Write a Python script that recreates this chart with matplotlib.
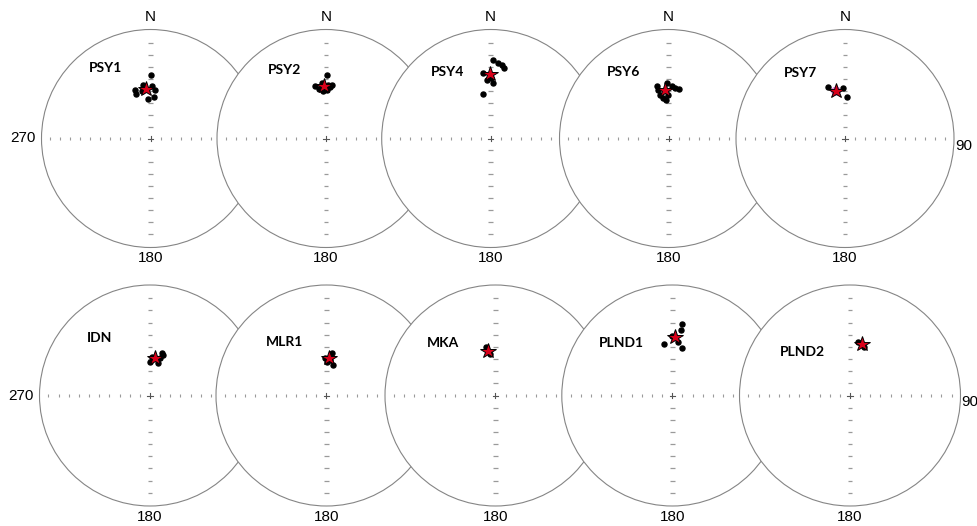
import numpy as np
import matplotlib.pyplot as plt
from matplotlib.patches import Circle

plt.rcParams['font.family'] = ['Liberation Sans', 'DejaVu Sans']

W, H = 978, 526

sites = ["PSY1", "PSY2", "PSY4", "PSY6", "PSY7", "IDN", "MLR1", "MKA", "PLND1", "PLND2"]

# site mean directions
mean_dec = [354.8, 358.1, 359.4, 355.9, 349.3, 7.7, 4.3, 350.1, 3.1, 13.5]
mean_inc = [52.3, 50.1, 40.5, 53.2, 53.5, 62.3, 62.4, 56.1, 45.8, 50.6]
a95 = [None, None, None, None, 3.0, None, None, None, None, None]

# specimen directions (declination, inclination)
psy1_dec = [0.0, 342.3, 342.7, 349.2, 1.1, 5.3, 4.1, 357.1, 352.5]
psy1_inc = [41.3, 51.4, 54.4, 53.8, 50.1, 53.1, 58.4, 59.9, 49.0]
psy2_dec = [1.2, 348.7, 351.9, 2.5, 5.0, 0.8, 355.5, 356.8, 5.9]
psy2_inc = [41.3, 49.3, 52.3, 49.3, 51.0, 53.3, 47.9, 53.8, 49.1]
psy4_dec = [1.9, 5.7, 8.5, 11.0, 349.8, 2.7, 356.1, 353.5, 0.5]
psy4_inc = [28.8, 30.8, 32.4, 34.8, 55.9, 47.5, 45.3, 39.6, 43.4]
psy6_dec = [347.4, 348.1, 358.1, 3.5, 7.4, 12.3, 348.9, 352.6, 356.3, 359.7]
psy6_inc = [48.9, 52.4, 48.0, 49.8, 51.6, 51.5, 56.6, 59.6, 60.8, 57.3]
psy7_dec = [341.9, 2.4, 357.4]
psy7_inc = [49.0, 58.4, 51.9]
idn_dec = [15.3, 18.2, 0.0, 2.5, 14.5, 15.0]
idn_inc = [57.0, 58.4, 65.0, 61.2, 65.4, 61.4]
mlr1_dec = [7.0, 0.3, 12.6, 357.7, 6.3]
mlr1_inc = [58.4, 65.0, 66.9, 62.5, 63.3]
mka_dec = [348.8, 352.5]
mka_inc = [53.4, 58.9]
plnd1_dec = [7.5, 7.3, 351.4, 12.0, 359.4, 6.3]
plnd1_inc = [34.8, 40.0, 50.8, 54.1, 45.2, 49.4]
plnd2_dec = [8.8, 16.2]
plnd2_inc = [49.3, 52.5]

site_dec = [psy1_dec, psy2_dec, psy4_dec, psy6_dec, psy7_dec,
            idn_dec, mlr1_dec, mka_dec, plnd1_dec, plnd2_dec]
site_inc = [psy1_inc, psy2_inc, psy4_inc, psy6_inc, psy7_inc,
            idn_inc, mlr1_inc, mka_inc, plnd1_inc, plnd2_inc]

# net centres and radii in pixels
centres = [(150.5, 138.5), (326, 138.5), (490.7, 138.5), (668.5, 138.5), (845, 138.5),
           (150, 395.5), (326.5, 395.5), (495.5, 395.5), (672.3, 395.5), (850, 395.5)]
radii = [109] * 5 + [110.5] * 5
name_pos = [(-0.417, 0.647), (-0.376, 0.628), (-0.396, 0.610), (-0.413, 0.610), (-0.408, 0.601),
            (-0.457, 0.520), (-0.376, 0.484), (-0.471, 0.475), (-0.464, 0.475), (-0.430, 0.394)]


def project(dec, inc):
    # lower hemisphere equal-area (Schmidt) projection, unit radius
    d = np.radians(np.asarray(dec, dtype=float))
    i = np.radians(np.asarray(inc, dtype=float))
    r = np.sqrt(2) * np.sin((np.pi / 2 - i) / 2)
    return r * np.sin(d), r * np.cos(d)


def cone(dec, inc, alpha):
    # small circle of radius alpha around a direction
    d, i, a = np.radians(dec), np.radians(inc), np.radians(alpha)
    t = np.linspace(0, 2 * np.pi, 80)
    v = np.array([np.cos(i) * np.cos(d), np.cos(i) * np.sin(d), np.sin(i)])
    u = np.array([-np.sin(d), np.cos(d), 0.0])
    w = np.cross(v, u)
    pts = np.cos(a) * v[:, None] + np.sin(a) * (np.outer(u, np.cos(t)) + np.outer(w, np.sin(t)))
    inc_c = np.degrees(np.arcsin(pts[2]))
    dec_c = np.degrees(np.arctan2(pts[1], pts[0]))
    return project(dec_c, inc_c)


fig = plt.figure(figsize=(W / 100, H / 100), dpi=100)

for k, name in enumerate(sites):
    cx, cy = centres[k]
    R = radii[k]
    ax = fig.add_axes([(cx - R) / W, 1 - (cy + R) / H, 2 * R / W, 2 * R / H])
    ax.set_xlim(-1, 1)
    ax.set_ylim(-1, 1)
    ax.axis('off')

    ax.add_patch(Circle((0, 0), 1, facecolor='white', edgecolor='#858585',
                        lw=0.8, zorder=1, clip_on=False))

    # tick marks along the E-W and N-S diameters
    ex = 0.092 * np.arange(1, 11)
    ax.vlines(np.concatenate([ex, -ex]), -0.017, 0.017, color='#9a9a9a', lw=0.8, zorder=2)
    ny = 0.11 * np.arange(1, 9)
    ax.hlines(np.concatenate([ny, -ny]), -0.022, 0.022, color='#9a9a9a', lw=0.9, zorder=2)
    ax.plot([-0.025, 0.025], [0, 0], color='#555555', lw=0.8, zorder=2)
    ax.plot([0, 0], [-0.025, 0.025], color='#555555', lw=0.8, zorder=2)

    x, y = project(site_dec[k], site_inc[k])
    ax.plot(x, y, 'o', color='black', ms=3.6, zorder=3, clip_on=False)
    if a95[k]:
        cxs, cys = cone(mean_dec[k], mean_inc[k], a95[k])
        ax.plot(cxs, cys, color='#e070e0', lw=0.9, zorder=4)
    mx, my = project(mean_dec[k], mean_inc[k])
    ax.plot(mx, my, marker='*', ms=11.5, mfc='#d8001a', mec='black', mew=0.7,
            zorder=5, clip_on=False)

    ax.text(name_pos[k][0], name_pos[k][1], name, family=['Lato', 'DejaVu Sans'],
            fontweight='bold', fontsize=10, ha='center', va='center', zorder=6)

    if k < 5:
        ax.text(0, 1.115, "N", fontsize=11, ha='center', va='center')
    ax.text(0, -1.097, "180", fontsize=11, ha='center', va='center')
    if k in (0, 5):
        ax.text(-1.17, 0, "270", fontsize=11, ha='center', va='center')
    if k == 4:
        ax.text(1.015, -0.07, "90", fontsize=11, ha='left', va='center')
    if k == 9:
        ax.text(1.003, -0.06, "90", fontsize=11, ha='left', va='center')

fig.savefig('out.png', dpi=100)
